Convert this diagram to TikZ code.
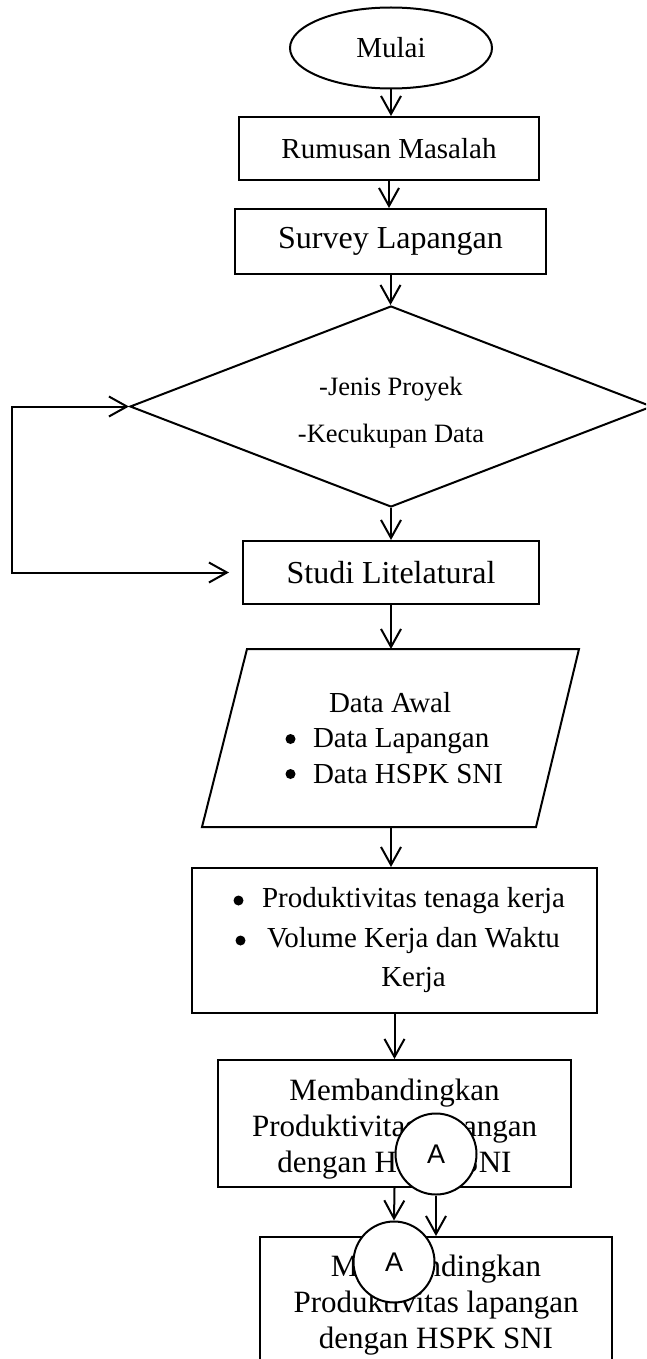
\documentclass[tikz,border=0pt]{standalone}
\usepackage{fontspec}
\setmainfont{Liberation Serif}
\newfontfamily\sansA{Liberation Sans}
\usetikzlibrary{shapes.geometric,arrows.meta}
\begin{document}
\begin{tikzpicture}[x=1pt,y=-1pt,
  line width=2pt,
  tipA/.tip={Straight Barb[length=18pt,width=20pt]},
  arr/.style={-tipA},
  box/.style={draw,rectangle,inner sep=0pt,align=center},
  fa/.style={font=\fontsize{29}{35.5}\selectfont},
  fb/.style={font=\fontsize{32}{38}\selectfont},
  fc/.style={font=\fontsize{31}{36}\selectfont},
  bul/.style={fill=black,draw=none},
  conn/.style={draw,circle,fill=white,inner sep=0pt,minimum size=81pt,font=\sansA\fontsize{27}{27}\selectfont}
]
\useasboundingbox (0,0) rectangle (646,1359);
\clip (0,0) rectangle (646,1359);

% shapes
\node[draw,ellipse,minimum width=202pt,minimum height=81pt,inner sep=0pt,fa] (mulai) at (391,48) {Mulai};
\node[box,minimum width=300pt,minimum height=63pt,fa] (rumus) at (389,148.5) {Rumusan Masalah};
\node[box,minimum width=311pt,minimum height=65pt,fb] (survey) at (390.5,241.5) {Survey Lapangan};
\node[draw,diamond,aspect=2.6,minimum width=522pt,minimum height=201pt,inner sep=0pt] (dia) at (391,406.5) {};
\node[font=\fontsize{26.5}{47}\selectfont,align=center,inner sep=0pt] (diatext) at (391,413) {-Jenis Proyek\\-Kecukupan Data};
\node[box,minimum width=296pt,minimum height=63pt,fb] (studi) at (391,572.5) {Studi Litelatural};
% input/output parallelogram
\coordinate (dataN) at (391,649);
\coordinate (dataS) at (391,827);
\draw[line join=miter] (247,649) -- (579,649) -- (536,827) -- (202,827) -- cycle;
\node[fa,align=left,anchor=west,inner sep=0pt] (datatext) at (312,738) {\hspace*{16pt}Data Awal\\Data Lapangan\\Data HSPK SNI};
\fill[bul] (290.5,739) circle (5pt);
\fill[bul] (290.5,774) circle (5pt);
\node[box,minimum width=405pt,minimum height=145pt] (prod) at (394.5,940.5) {};
\node[font=\fontsize{29}{39.5}\selectfont,align=center,inner sep=0pt] (prodtext) at (413.5,940.4) {Produktivitas tenaga kerja\\Volume Kerja dan Waktu\\Kerja};
\fill[bul] (238.5,900.5) circle (5pt);
\fill[bul] (240.5,940.5) circle (5pt);
\node[box,minimum width=353pt,minimum height=127pt] (memb) at (394.5,1123.5) {};
\node[fc,align=center,inner sep=0pt] (membtext) at (394.5,1129) {Membandingkan\\Produktivitas lapangan\\dengan HSPK SNI};
\node[box,minimum width=352pt,minimum height=127pt] (membb) at (436,1300.5) {};
\node[fc,align=center,inner sep=0pt] (membbtext) at (436,1305.5) {Membandingkan\\Produktivitas lapangan\\dengan HSPK SNI};

% connectors (off-page references)
\node[conn] (A1) at (436,1154) {A};
\node[conn] (A2) at (394,1262) {A};

% arrows
\draw[arr] (mulai.south) -- (mulai.south |- rumus.north);
\draw[arr] (rumus.south) -- (rumus.south |- survey.north);
\draw[arr] (survey.south) -- (survey.south |- dia.north);
\draw[arr] (dia.south) -- (dia.south |- studi.north);
\draw[arr] (studi.south) -- (studi.south |- dataN);
\draw[arr] (dataS) -- (dataS |- prod.north);
\draw[arr] (prod.south) -- (prod.south |- memb.north);
\draw[arr] (memb.south) -- (A2.north);
\draw[arr] (A1.south) -- (A1.south |- membb.north);

% loop
\coordinate (lp) at (12,404);
\draw[tipA-tipA,shorten >=13pt] (dia.west) -- (dia.west -| lp) -- (lp |- studi.west) -- (studi.west);
\end{tikzpicture}
\end{document}
